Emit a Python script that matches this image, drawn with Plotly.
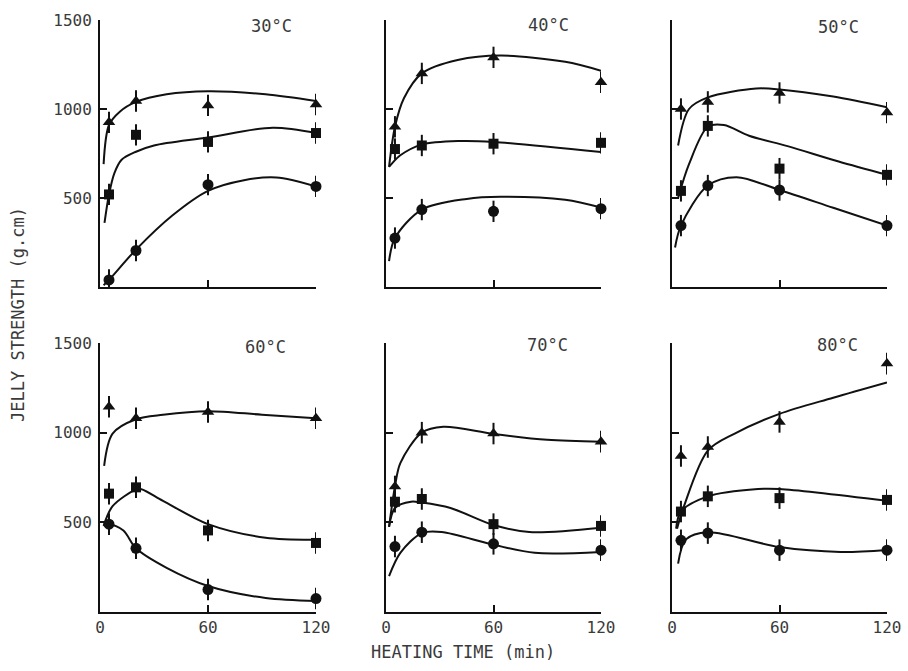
import plotly.graph_objects as go

# ---------------- data ----------------
TIMES = [5, 20, 60, 120]                      # heating time (min)
TEMPS = ["30°C", "40°C", "50°C", "60°C", "70°C", "80°C"]
X_TICKS = [0, 60, 120]
Y_TICKS = [500, 1000, 1500]

# measured jelly strength (g.cm): triangles, squares, circles
tri_30 = [925, 1045, 1020, 1025]
sq_30 = [520, 855, 815, 865]
ci_30 = [40, 205, 575, 565]

tri_40 = [900, 1200, 1290, 1150]
sq_40 = [775, 795, 805, 810]
ci_40 = [275, 435, 425, 440]

tri_50 = [1000, 1040, 1090, 980]
sq_50 = [540, 905, 665, 630]
ci_50 = [345, 570, 545, 345]

tri_60 = [1145, 1080, 1115, 1080]
sq_60 = [660, 695, 455, 385]
ci_60 = [490, 355, 125, 75]

tri_70 = [700, 1000, 995, 950]
sq_70 = [615, 630, 490, 480]
ci_70 = [365, 445, 380, 345]

tri_80 = [870, 920, 1060, 1385]
sq_80 = [560, 645, 635, 625]
ci_80 = [400, 440, 345, 345]

# error bar half-lengths
err_all = [60, 60, 60, 60]

# fitted curves (knots): (time, strength)
fit_tri_30 = [(2, 690), (5, 910), (11, 985), (20, 1040), (37, 1083), (60, 1100), (92, 1083), (120, 1045)]
fit_sq_30 = [(2.5, 360), (5, 520), (8, 640), (12, 715), (20, 760), (30, 795), (60, 840), (96, 895), (120, 865)]
fit_ci_30 = [(2, 10), (5, 40), (20, 210), (40, 400), (60, 540), (80, 600), (98, 615), (120, 565)]

fit_tri_40 = [(1.7, 675), (5, 900), (10, 1060), (20, 1200), (40, 1275), (64, 1300), (100, 1265), (120, 1215)]
fit_sq_40 = [(1.7, 675), (3, 690), (8, 740), (20, 800), (41, 820), (60, 815), (120, 758)]
fit_ci_40 = [(1.7, 145), (5, 275), (20, 435), (45, 495), (64, 507), (100, 490), (120, 446)]

fit_tri_50 = [(3.4, 795), (9.5, 1000), (20, 1065), (47, 1115), (60, 1110), (90, 1070), (120, 1010)]
fit_sq_50 = [(3.4, 500), (9.5, 690), (20, 900), (29, 910), (43, 850), (65, 790), (93, 705), (120, 630)]
fit_ci_50 = [(1.7, 222), (5, 345), (20, 570), (36, 617), (60, 545), (90, 445), (120, 345)]

fit_tri_60 = [(2.3, 815), (7, 995), (20, 1075), (35, 1100), (60, 1120), (90, 1100), (120, 1080)]
fit_sq_60 = [(2, 480), (7, 590), (20, 683), (23, 685), (35, 620), (60, 490), (92, 414), (120, 403)]
fit_ci_60 = [(2, 480), (5, 490), (13, 455), (20, 355), (37, 246), (60, 145), (92, 78), (120, 62)]

fit_tri_70 = [(1.7, 475), (5, 700), (8, 830), (20, 1000), (32, 1033), (60, 993), (90, 960), (120, 950)]
fit_sq_70 = [(1.7, 475), (5, 580), (14, 615), (20, 610), (36, 580), (60, 485), (80, 446), (120, 470)]
fit_ci_70 = [(1.7, 200), (8, 330), (20, 440), (31, 446), (60, 375), (83, 330), (120, 335)]

fit_tri_80 = [(2.8, 465), (6.7, 590), (20, 900), (35, 995), (60, 1105), (90, 1195), (120, 1280)]
fit_sq_80 = [(2.3, 465), (5, 560), (20, 645), (48, 686), (60, 686), (120, 620)]
fit_ci_80 = [(3.4, 270), (7.8, 405), (20, 445), (60, 362), (94, 335), (120, 346)]

# ---------------- assemble ----------------
points = [
    (tri_30, sq_30, ci_30), (tri_40, sq_40, ci_40), (tri_50, sq_50, ci_50),
    (tri_60, sq_60, ci_60), (tri_70, sq_70, ci_70), (tri_80, sq_80, ci_80),
]
fits = [
    (fit_tri_30, fit_sq_30, fit_ci_30), (fit_tri_40, fit_sq_40, fit_ci_40),
    (fit_tri_50, fit_sq_50, fit_ci_50), (fit_tri_60, fit_sq_60, fit_ci_60),
    (fit_tri_70, fit_sq_70, fit_ci_70), (fit_tri_80, fit_sq_80, fit_ci_80),
]
SYMBOLS = ["triangle-up", "square", "circle"]
SIZES = [11, 10, 11]

W, H = 908, 671
FONT = "DejaVu Sans Mono, Liberation Mono, monospace"
INK = "#111111"
TXT = "#3a3a3a"

col_px = [(100, 316), (386, 601), (672, 887)]
row_px = [(20, 287), (343, 612)]

fig = go.Figure()
layout = {}
for i, temp in enumerate(TEMPS):
    r, c = divmod(i, 3)
    n = i + 1
    xa = "x" if n == 1 else f"x{n}"
    ya = "y" if n == 1 else f"y{n}"
    for k in range(3):
        fx = [p[0] for p in fits[i][k]]
        fy = [p[1] for p in fits[i][k]]
        fig.add_trace(go.Scatter(
            x=fx, y=fy, mode="lines", xaxis=xa, yaxis=ya,
            line=dict(color=INK, width=2, shape="spline", smoothing=0.9),
            showlegend=False, hoverinfo="skip", cliponaxis=False))
        fig.add_trace(go.Scatter(
            x=TIMES, y=points[i][k], mode="markers", xaxis=xa, yaxis=ya,
            marker=dict(symbol=SYMBOLS[k], size=SIZES[k], color=INK),
            error_y=dict(type="data", array=err_all, visible=True,
                         thickness=2, width=0, color=INK),
            showlegend=False, cliponaxis=False))
    x0, x1 = col_px[c]
    y0, y1 = row_px[r]
    common = dict(showline=True, linewidth=2, linecolor=INK, showgrid=False,
                  zeroline=False, ticks="inside", ticklen=7, tickwidth=2,
                  tickcolor=INK, automargin=False,
                  tickfont=dict(family=FONT, size=16, color=TXT))
    layout[f"xaxis{'' if n == 1 else n}"] = dict(
        domain=[x0 / W, x1 / W], range=[0, 120], anchor=ya,
        tickvals=X_TICKS, showticklabels=(r == 1), **common)
    layout[f"yaxis{'' if n == 1 else n}"] = dict(
        domain=[1 - y1 / H, 1 - y0 / H], range=[0, 1500], anchor=xa,
        tickvals=Y_TICKS, showticklabels=(c == 0), ticklabelstandoff=3, **common)

label_pos = [(271, 26), (548, 25), (838, 27), (265, 347), (547, 345), (837, 345)]
annotations = []
for temp, (lx, ly) in zip(TEMPS, label_pos):
    annotations.append(dict(text=temp, x=lx / W, y=1 - ly / H, xref="paper", yref="paper",
                            xanchor="center", yanchor="middle",
                            showarrow=False, font=dict(family=FONT, size=17, color=TXT)))
annotations.append(dict(text="JELLY STRENGTH (g.cm)", x=18 / W, y=1 - 315 / H,
                        xref="paper", yref="paper", xanchor="center", yanchor="middle",
                        showarrow=False, textangle=-90,
                        font=dict(family=FONT, size=17, color=TXT)))
annotations.append(dict(text="HEATING TIME (min)", x=463 / W, y=1 - 652 / H,
                        xref="paper", yref="paper", xanchor="center", yanchor="middle",
                        showarrow=False,
                        font=dict(family=FONT, size=17, color=TXT)))

fig.update_layout(width=W, height=H,
                  margin=dict(l=0, r=0, t=0, b=0, pad=0, autoexpand=False),
                  paper_bgcolor="white", plot_bgcolor="white",
                  annotations=annotations, **layout)
fig.write_html("out.html", config={"displayModeBar": False},
               post_script="document.body.style.margin='0px';document.body.style.overflow='hidden';")
